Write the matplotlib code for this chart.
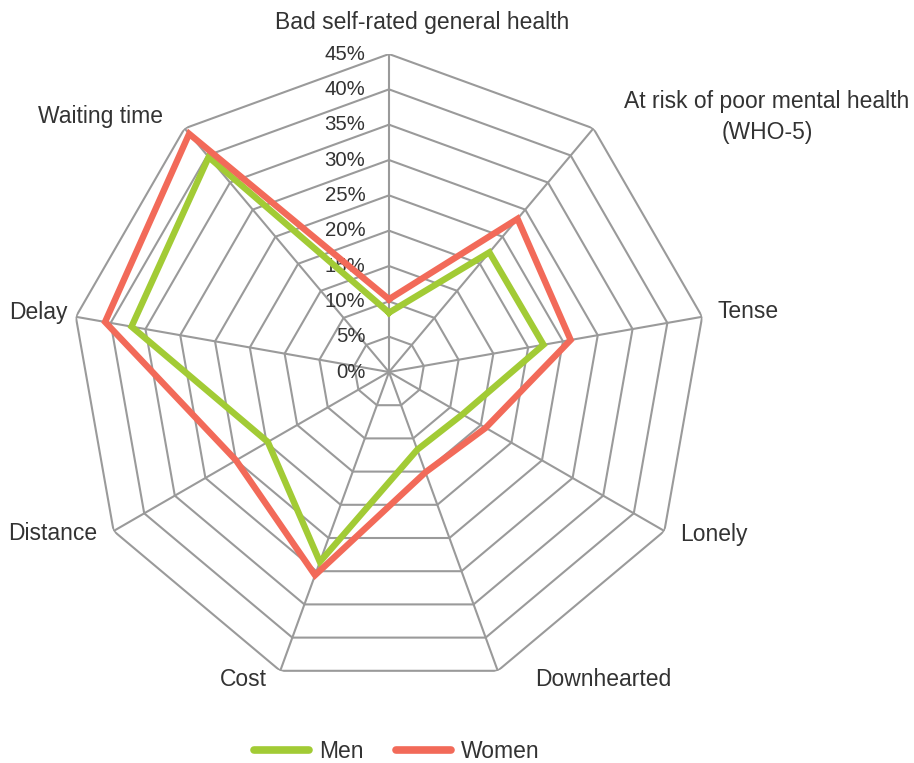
import numpy as np
import matplotlib
matplotlib.use("Agg")
import matplotlib.pyplot as plt
from matplotlib.lines import Line2D

plt.rcParams['font.family'] = ['Liberation Sans', 'DejaVu Sans']

categories = ["Bad self-rated general health", "At risk of poor mental health\n(WHO-5)",
              "Tense", "Lonely", "Downhearted", "Cost", "Distance", "Delay", "Waiting time"]
men = [8.4, 22.1, 22.2, 12.0, 11.7, 28.6, 19.8, 37.0, 39.7]
women = [10.3, 28.3, 26.1, 15.8, 15.1, 30.6, 25.0, 40.8, 44.0]
rings = [0, 5, 10, 15, 20, 25, 30, 35, 40, 45]

green = "#a2cb35"
red = "#f26a59"
grid = "#9a9a9a"
txt = "#333333"

n = len(categories)
angles = np.linspace(0, 2 * np.pi, n, endpoint=False)
closed = np.append(angles, angles[0])

fig = plt.figure(figsize=(9.14, 7.63), dpi=100)
ax = fig.add_axes([0.0777, 0.0957, 0.6958, 0.8335], projection='polar')
ax.set_theta_zero_location('N')
ax.set_theta_direction(-1)
ax.set_ylim(0, 45)
ax.set_xticks([])
ax.set_yticks([])
ax.grid(False)
ax.spines['polar'].set_visible(False)

# polygon grid
for r in rings[1:]:
    ax.plot(closed, [r] * len(closed), color=grid, lw=1.5, zorder=1)
for a in angles:
    ax.plot([a, a], [0, 45], color=grid, lw=1.5, zorder=1)

ax.plot(closed, men + men[:1], color=green, lw=4.6, zorder=3, solid_joinstyle='miter')
ax.plot(closed, women + women[:1], color=red, lw=4.6, zorder=4, solid_joinstyle='miter')

for r in rings:
    ax.annotate(f"{r}%", xy=(0, r), xytext=(-17, 0), textcoords='offset points',
                ha='right', va='center', fontsize=14.7, color=txt, zorder=2)

# category labels (pixel positions from the reference)
W, H = 914, 763
label_pos = [(422, 22, 'center'), (767, 117, 'center'), (718, 312, 'left'),
             (680, 534, 'left'), (603, 680, 'center'), (243, 680, 'center'),
             (53, 534, 'center'), (38, 312, 'center'), (100, 117, 'center')]
for lab, (x, y, ha) in zip(categories, label_pos):
    fig.text(x / W, 1 - y / H, lab, ha=ha, va='center', fontsize=16.5, color=txt,
             linespacing=1.45)

handles = [Line2D([], [], color=green, lw=5.5, solid_capstyle='round'),
           Line2D([], [], color=red, lw=5.5, solid_capstyle='round')]
fig.legend(handles, ["Men", "Women"], loc='center', bbox_to_anchor=(397 / W, 11 / H),
           ncol=2, frameon=False, fontsize=16.5, handlelength=2.4, handletextpad=0.45,
           columnspacing=1.4, labelcolor=txt)

fig.savefig("out.png", dpi=100)
